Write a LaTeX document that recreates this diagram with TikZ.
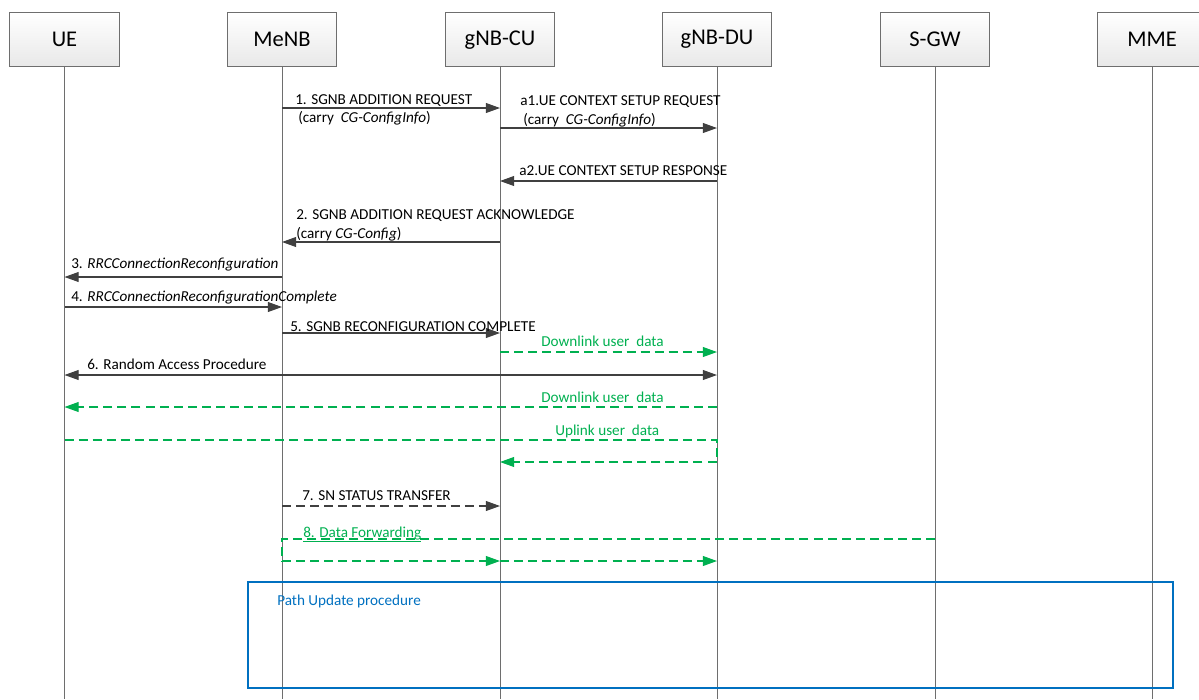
\documentclass[tikz,border=0pt]{standalone}
\usepackage{fontspec}
\setmainfont{Carlito}
\usetikzlibrary{arrows.meta}
\definecolor{msggray}{HTML}{404040}
\definecolor{linegray}{HTML}{6E6E6E}
\definecolor{datagreen}{HTML}{00B050}
\definecolor{procblue}{HTML}{0070C0}
\newcommand{\lblsize}{\fontsize{10.8}{13}\selectfont}

\begin{document}
\begin{tikzpicture}[x=0.025cm,y=-0.025cm]
                \tikzstyle{entity}=[draw=linegray, line width=0.7pt, top color=white, bottom color=gray!18, minimum width=2.725cm, minimum height=1.35cm, inner sep=0pt, font=\fontsize{16}{19}\selectfont]
                \tikzstyle{lifeline}=[draw=linegray, line width=0.7pt]
                \tikzstyle{msg}=[draw=msggray, line width=0.8pt, -{Triangle[length=10pt,width=7pt]}]
                \tikzstyle{datamsg}=[draw=datagreen, line width=0.8pt, dash pattern=on 6.4pt off 3.6pt, -{Triangle[length=10pt,width=7pt]}]
                \tikzstyle{lbl}=[anchor=base west, inner sep=0pt, font=\lblsize]
                \tikzstyle{datalbl}=[lbl, text=datagreen]
                
                \useasboundingbox (0,0) rectangle (1199,699);
                
                \node[entity] (ue) at (64.5,39.7) {UE};
                \node[entity] (menb) at (282,39.7) {MeNB};
                \node[entity] (cu) at (500,39.7) {gNB-CU};
                \node[entity] (du) at (717,39.7) {gNB-DU};
                \node[entity] (sgw) at (935,39.7) {S-GW};
                \node[entity] (mme) at (1152,39.7) {MME};
                
                \foreach \e in {ue,menb,cu,du,sgw,mme}
                    \draw[lifeline] (\e.south) -- (\e |- 0,699);
                
                \draw[msg] (menb |- 0,108) -- (cu |- 0,108);
                \node[lbl] (m1) at (295,104) {1. SGNB ADDITION REQUEST};
                \node[lbl] (m1c) at (298,122) {(carry\ \ \textit{CG-ConfigInfo})};
                
                \draw[msg] (cu |- 0,128) -- (du |- 0,128);
                \node[lbl] (a1) at (520,105) {a1.UE CONTEXT SETUP REQUEST};
                \node[lbl] (a1c) at (523,124) {(carry\ \ \textit{CG-ConfigInfo})};
                
                \draw[msg] (du |- 0,181) -- (cu |- 0,181);
                \node[lbl] (a2) at (519,175) {a2.UE CONTEXT SETUP RESPONSE};
                
                \draw[msg] (cu |- 0,242) -- (menb |- 0,242);
                \node[lbl] (m2) at (296,219) {2. SGNB ADDITION REQUEST ACKNOWLEDGE};
                \node[lbl] (m2c) at (296,238) {(carry \textit{CG-Config})};
                
                \draw[msg] (menb |- 0,277) -- (ue |- 0,277);
                \node[lbl] (m3) at (71,268) {3. \textit{RRCConnectionReconfiguration}};
                
                \draw[msg] (ue |- 0,307) -- (menb |- 0,307);
                \node[lbl] (m4) at (71,301) {4. \textit{RRCConnectionReconfigurationComplete}};
                
                \draw[msg] (menb |- 0,333) -- (cu |- 0,333);
                \node[lbl] (m5) at (290,331) {5. SGNB RECONFIGURATION COMPLETE};
                
                \draw[datamsg] (cu |- 0,352) -- (du |- 0,352);
                \node[datalbl] (dl1) at (541,346) {Downlink user\ \ data};
                
                \draw[msg, {Triangle[length=10pt,width=7pt]}-{Triangle[length=10pt,width=7pt]}] (ue |- 0,375) -- (du |- 0,375);
                \node[lbl] (m6) at (87,369) {6. Random Access Procedure};
                
                \draw[datamsg] (du |- 0,407) -- (ue |- 0,407);
                \node[datalbl] (dl2) at (541,402) {Downlink user\ \ data};
                
                \draw[datamsg] (ue |- 0,440) -- (du |- 0,440) -- (du |- 0,462) -- (cu |- 0,462);
                \node[datalbl] (ul) at (555,435) {Uplink user\ \ data};
                
                \draw[msg, dash pattern=on 6.4pt off 3.6pt] (menb |- 0,506) -- (cu |- 0,506);
                \node[lbl] (m7) at (302,500) {7. SN STATUS TRANSFER};
                
                \draw[datamsg, -] (sgw |- 0,539) -- (menb |- 0,539) -- (menb |- 0,561);
                \draw[datamsg] (menb |- 0,561) -- (cu |- 0,561);
                \draw[datamsg] (cu |- 0,561) -- (du |- 0,561);
                \node[datalbl] (m8) at (303,537) {\underline{8. Data Forwarding}};
                
                \draw[procblue, line width=0.9pt] (248,582) rectangle (1173,688);
                \node[lbl, text=procblue] (pu) at (277,605) {Path Update procedure};
                
                \end{tikzpicture}
\end{document}
